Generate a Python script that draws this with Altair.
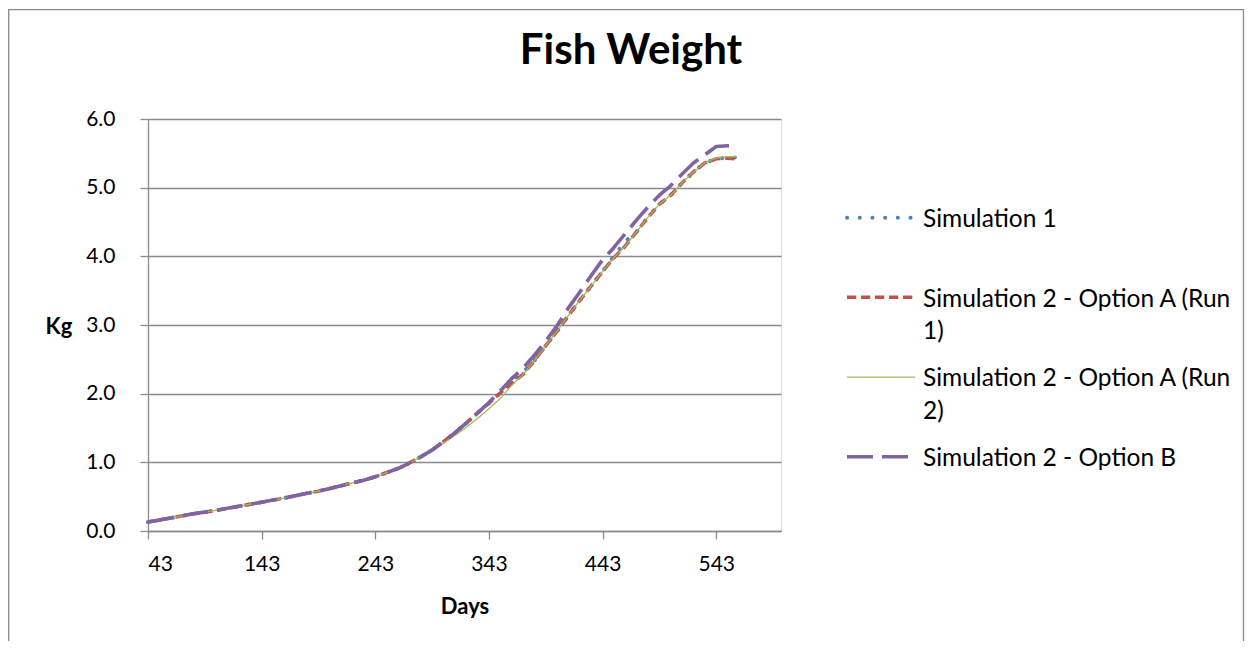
import altair as alt
import pandas as pd

FONT = "Lato"
GRID = "#8a8a8a"

days = [43, 53, 63, 73, 83, 93, 103, 113, 123, 133, 143, 153, 163, 173, 183, 193,
        203, 213, 223, 233, 243, 253, 263, 273, 283, 293, 303, 313, 323, 333, 343,
        353, 363, 373, 383, 393, 403, 413, 423, 433, 443, 453, 463, 473, 483, 493,
        503, 513, 523, 533, 543, 553, 561]

sim1 = [0.13, 0.16, 0.19, 0.22, 0.25, 0.275, 0.30, 0.33, 0.36, 0.39, 0.42, 0.45,
        0.48, 0.515, 0.55, 0.58, 0.62, 0.66, 0.70, 0.74, 0.79, 0.85, 0.91, 0.99,
        1.08, 1.18, 1.30, 1.43, 1.57, 1.72, 1.86, 2.01, 2.19, 2.31, 2.48, 2.70,
        2.91, 3.14, 3.36, 3.57, 3.78, 4.00, 4.22, 4.36, 4.57, 4.76, 4.89, 5.07,
        5.23, 5.36, 5.42, 5.44, 5.44]

optA_run1 = [0.13, 0.16, 0.19, 0.22, 0.25, 0.275, 0.30, 0.33, 0.36, 0.39, 0.42, 0.45,
             0.48, 0.515, 0.55, 0.58, 0.62, 0.66, 0.70, 0.74, 0.79, 0.85, 0.91, 0.99,
             1.08, 1.18, 1.30, 1.43, 1.57, 1.72, 1.86, 2.01, 2.15, 2.28, 2.48, 2.70,
             2.91, 3.14, 3.36, 3.57, 3.78, 3.98, 4.15, 4.36, 4.57, 4.76, 4.89, 5.07,
             5.23, 5.36, 5.42, 5.43, 5.42]

optA_run2 = [0.13, 0.16, 0.19, 0.22, 0.25, 0.275, 0.30, 0.33, 0.36, 0.39, 0.42, 0.45,
             0.48, 0.515, 0.55, 0.58, 0.62, 0.66, 0.70, 0.74, 0.79, 0.85, 0.91, 0.99,
             1.08, 1.18, 1.28, 1.39, 1.51, 1.64, 1.78, 1.93, 2.12, 2.28, 2.48, 2.70,
             2.91, 3.14, 3.36, 3.57, 3.78, 3.98, 4.15, 4.36, 4.57, 4.76, 4.89, 5.07,
             5.23, 5.36, 5.43, 5.45, 5.45]

optB = [0.13, 0.16, 0.19, 0.22, 0.25, 0.275, 0.30, 0.33, 0.36, 0.39, 0.42, 0.45,
        0.48, 0.515, 0.55, 0.58, 0.62, 0.66, 0.70, 0.74, 0.79, 0.85, 0.91, 0.99,
        1.08, 1.18, 1.30, 1.43, 1.57, 1.72, 1.87, 2.04, 2.22, 2.37, 2.56, 2.77,
        2.99, 3.25, 3.48, 3.72, 3.95, 4.13, 4.33, 4.53, 4.72, 4.89, 5.03, 5.20,
        5.36, 5.48, 5.60, 5.61, 5.61]

series_names = ["Simulation 1",
                "Simulation 2 - Option A (Run 1)",
                "Simulation 2 - Option A (Run 2)",
                "Simulation 2 - Option B"]
legend_labels = ["Simulation 1",
                 "Simulation 2 - Option A (Run\n1)",
                 "Simulation 2 - Option A (Run\n2)",
                 "Simulation 2 - Option B"]
series_values = [sim1, optA_run1, optA_run2, optB]
series_colors = ["#4F81BD", "#C0504D", "#9BBB59", "#8064A2"]
series_dashes = [[0.1, 12.6], [9.3, 4.7], [1, 0], [26, 9]]
series_widths = [4.0, 3.5, 1.3, 3.6]
series_caps = ["round", "butt", "butt", "butt"]

chart_title = "Fish Weight"
x_ticks = [43, 143, 243, 343, 443, 543]
y_ticks = [0, 1, 2, 3, 4, 5, 6]

x_scale = alt.Scale(domain=[43, 600], nice=False, zero=False)
y_scale = alt.Scale(domain=[0, 6], nice=False)
legend_y = alt.Scale(domain=[0, 3], range=[98.7, 337.7], nice=False, zero=False)

x_axis = alt.Axis(values=x_ticks, title="Days", grid=False,
                  labelFont=FONT, labelFontSize=21, labelColor="black",
                  tickSize=8, labelPadding=14, titleY=82,
                  titleBaseline="alphabetic", titleFontWeight="bold",
                  titleFont=FONT, titleFontSize=22, titleColor="black",
                  domainColor=GRID, domainWidth=1.3, tickColor=GRID, tickWidth=1.3)
y_axis = alt.Axis(values=y_ticks, format=".1f", title="Kg", grid=True,
                  gridColor=GRID, gridWidth=1.3, gridOpacity=1,
                  domainColor=GRID, domainWidth=1.3, tickColor=GRID, tickWidth=1.3,
                  labelFont=FONT, labelFontSize=21, labelColor="black",
                  tickSize=8, labelPadding=25, titleAngle=0,
                  titleX=-89.6, titleY=214.3, titleAlign="center",
                  titleBaseline="alphabetic", titleFontWeight="bold",
                  titleFont=FONT, titleFontSize=22, titleColor="black")

layers = []

frame = alt.Chart(pd.DataFrame({"f": [0]})).mark_rect(
    fill=None, stroke="#8a8a8a", strokeWidth=1.3
).encode(
    x=alt.value(-139.3), x2=alt.value(1095.5), y=alt.value(-109.3), y2=alt.value(600)
)
layers.append(frame)

title_layer = alt.Chart(pd.DataFrame({"t": [chart_title]})).mark_text(
    font=FONT, fontSize=42, fontWeight="bold", color="black",
    align="center", baseline="alphabetic",
).encode(x=alt.value(483), y=alt.value(-55), text="t:N")
layers.append(title_layer)

for i, (name, vals) in enumerate(zip(series_names, series_values)):
    sdf = pd.DataFrame({"day": days, "kg": vals, "series": name})
    layers.append(
        alt.Chart(sdf).mark_line(
            color=series_colors[i], strokeDash=series_dashes[i],
            strokeWidth=series_widths[i], strokeCap=series_caps[i],
            strokeJoin="round",
        ).encode(
            x=alt.X("day:Q", scale=x_scale, axis=x_axis),
            y=alt.Y("kg:Q", scale=y_scale, axis=y_axis if i == 0 else None),
            order=alt.Order("day:Q"),
        )
    )

legend_df = pd.DataFrame({"series": series_names, "slot": [0, 1, 2, 3],
                          "label": legend_labels})

for i, name in enumerate(series_names):
    layers.append(
        alt.Chart(legend_df[legend_df["series"] == name]).mark_rule(
            color=series_colors[i], strokeDash=series_dashes[i],
            strokeWidth=series_widths[i], strokeCap=series_caps[i],
        ).encode(
            x=alt.value(699), x2=alt.value(767),
            y=alt.Y("slot:Q", scale=legend_y, axis=None),
        )
    )

layers.append(
    alt.Chart(legend_df).mark_text(
        align="left", baseline="alphabetic", dy=9.3, lineBreak="\n",
        lineHeight=32.7, font=FONT, fontSize=24.5, color="black",
    ).encode(
        x=alt.value(775),
        y=alt.Y("slot:Q", scale=legend_y, axis=None),
        text="label:N",
    )
)

chart = alt.layer(*layers).resolve_scale(y="independent").properties(
    width=633, height=412,
    autosize=alt.AutoSizeParams(type="none"),
    padding={"left": 140, "top": 111, "right": 464, "bottom": 110},
).configure_view(stroke=None).configure(background="white")

chart.save("out.html", embed_options={"renderer": "svg", "actions": False})
